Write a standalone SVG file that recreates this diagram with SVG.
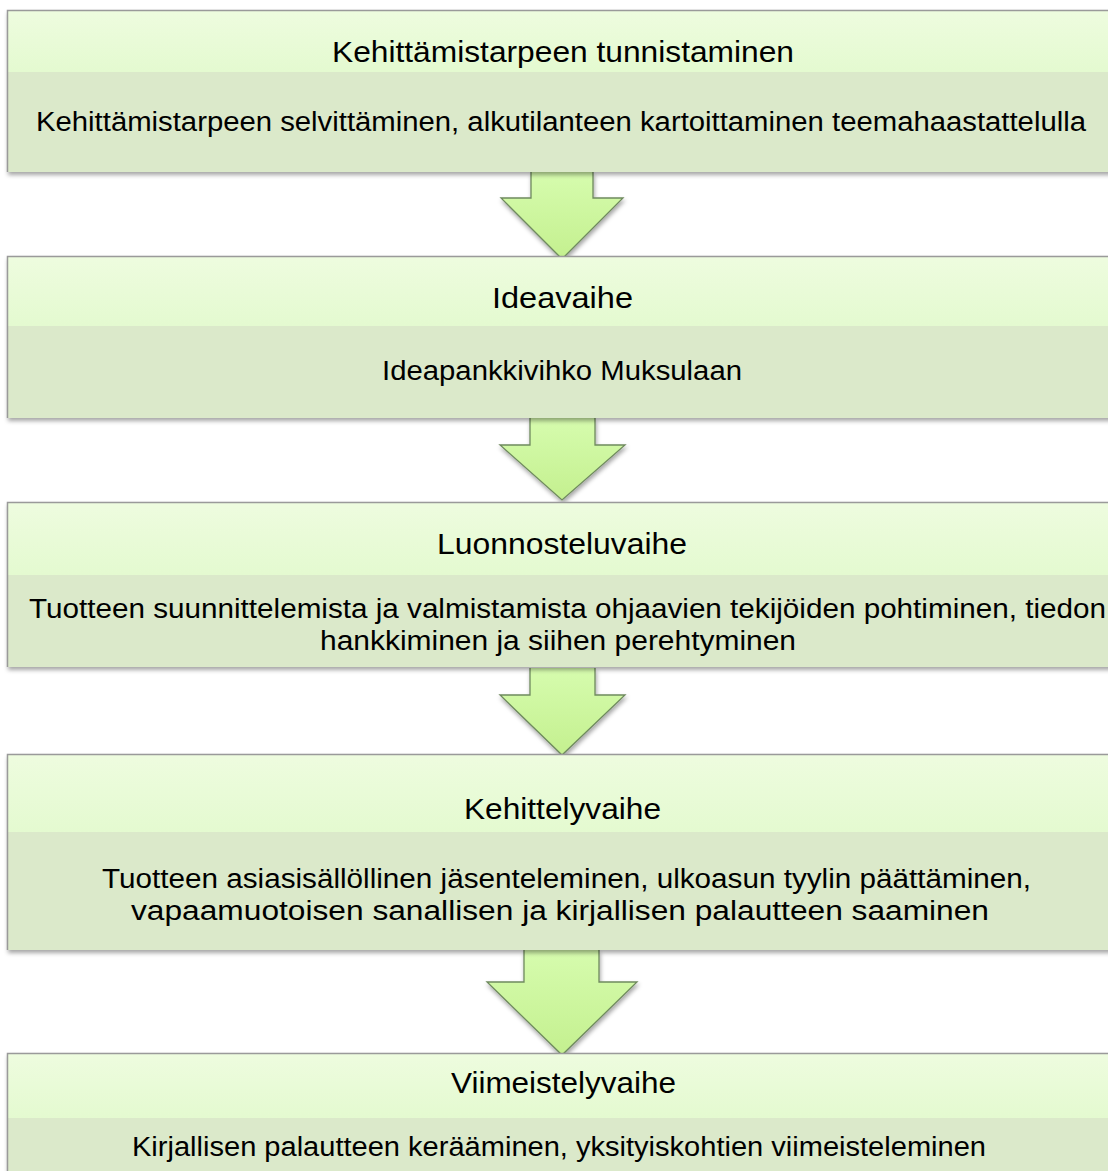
<svg xmlns="http://www.w3.org/2000/svg" width="1108" height="1171" viewBox="0 0 1108 1171">
<defs>
<linearGradient id="hdr" x1="0" y1="0" x2="0" y2="1">
<stop offset="0" stop-color="#eefcdf"/>
<stop offset="1" stop-color="#e4fad0"/>
</linearGradient>
<linearGradient id="arr" x1="0" y1="0" x2="0" y2="1">
<stop offset="0" stop-color="#d6fcae"/>
<stop offset="1" stop-color="#c4f08f"/>
</linearGradient>
<filter id="sh" x="-5%" y="-5%" width="110%" height="120%">
<feDropShadow dx="1" dy="3" stdDeviation="2" flood-color="#000" flood-opacity="0.35"/>
</filter>
</defs>
<style>
.hdr{fill:url(#hdr)}
.body{fill:#dbe9ca}
.edge{fill:none;stroke:#9a9a9a;stroke-width:1.5}
.arrow{fill:url(#arr);stroke:#6f8a5e;stroke-width:1.3;stroke-linejoin:miter}
text{font-family:"Liberation Sans",Arial,sans-serif;font-size:27px;fill:#000;text-anchor:middle}
text.t{font-size:29px}
</style>
<g id="connectors">
<path class="arrow" filter="url(#sh)" d="M531,172 V198 H501 L562,259 L623,198 H593 V172"/>
<path class="arrow" filter="url(#sh)" d="M530,418 V445 H500 L562,500 L625,445 H595 V418"/>
<path class="arrow" filter="url(#sh)" d="M530,668 V695 H500 L562,755 L625,695 H595 V668"/>
<path class="arrow" filter="url(#sh)" d="M524,950 V982 H487 L562,1055 L637,982 H599 V950"/>
</g>
<g id="node1">
<g filter="url(#sh)">
<rect class="hdr" x="7" y="10" width="1110" height="62"/>
<rect class="body" x="7" y="72" width="1110" height="100"/>
</g>
<path class="edge" d="M7.5,172 V10.5 H1108"/>
<text class="t" x="563" y="62" textLength="462" lengthAdjust="spacingAndGlyphs">Kehittämistarpeen tunnistaminen</text>
<text x="561" y="131" textLength="1050" lengthAdjust="spacingAndGlyphs">Kehittämistarpeen selvittäminen, alkutilanteen kartoittaminen teemahaastattelulla</text>
</g>
<g id="node2">
<g filter="url(#sh)">
<rect class="hdr" x="7" y="256" width="1110" height="70"/>
<rect class="body" x="7" y="326" width="1110" height="92"/>
</g>
<path class="edge" d="M7.5,418 V256.5 H1108"/>
<text class="t" x="562.5" y="308" textLength="141" lengthAdjust="spacingAndGlyphs">Ideavaihe</text>
<text x="562" y="380" textLength="360" lengthAdjust="spacingAndGlyphs">Ideapankkivihko Muksulaan</text>
</g>
<g id="node3">
<g filter="url(#sh)">
<rect class="hdr" x="7" y="502" width="1110" height="73"/>
<rect class="body" x="7" y="575" width="1110" height="92"/>
</g>
<path class="edge" d="M7.5,667 V502.5 H1108"/>
<text class="t" x="562" y="554" textLength="250" lengthAdjust="spacingAndGlyphs">Luonnosteluvaihe</text>
<text x="567.5" y="618" textLength="1077" lengthAdjust="spacingAndGlyphs">Tuotteen suunnittelemista ja valmistamista ohjaavien tekijöiden pohtiminen, tiedon</text>
<text x="558" y="650" textLength="476" lengthAdjust="spacingAndGlyphs">hankkiminen ja siihen perehtyminen</text>
</g>
<g id="node4">
<g filter="url(#sh)">
<rect class="hdr" x="7" y="754" width="1110" height="78"/>
<rect class="body" x="7" y="832" width="1110" height="118"/>
</g>
<path class="edge" d="M7.5,950 V754.5 H1108"/>
<text class="t" x="562.5" y="819" textLength="197" lengthAdjust="spacingAndGlyphs">Kehittelyvaihe</text>
<text x="566.5" y="888" textLength="929" lengthAdjust="spacingAndGlyphs">Tuotteen asiasisällöllinen jäsenteleminen, ulkoasun tyylin päättäminen,</text>
<text x="560" y="920" textLength="858" lengthAdjust="spacingAndGlyphs">vapaamuotoisen sanallisen ja kirjallisen palautteen saaminen</text>
</g>
<g id="node5">
<g filter="url(#sh)">
<rect class="hdr" x="7" y="1053" width="1110" height="65"/>
<rect class="body" x="7" y="1118" width="1110" height="60"/>
</g>
<path class="edge" d="M7.5,1180 V1053.5 H1108"/>
<text class="t" x="563.5" y="1093" textLength="225" lengthAdjust="spacingAndGlyphs">Viimeistelyvaihe</text>
<text x="559" y="1156" textLength="854" lengthAdjust="spacingAndGlyphs">Kirjallisen palautteen kerääminen, yksityiskohtien viimeisteleminen</text>
</g>
</svg>
